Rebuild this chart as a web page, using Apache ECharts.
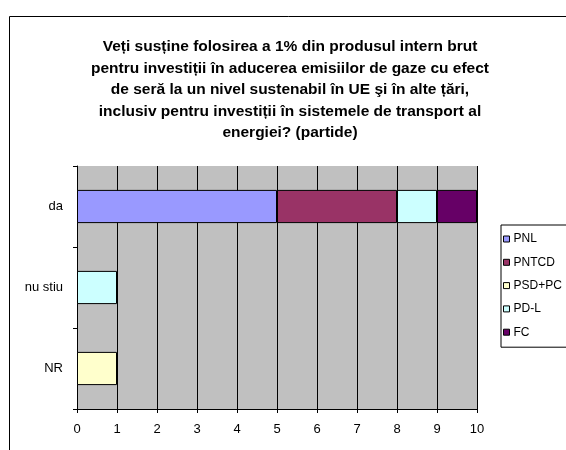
<!DOCTYPE html>
<html>
<head>
<meta charset="utf-8">
<script src="https://cdn.jsdelivr.net/npm/echarts@6/dist/echarts.min.js"></script>
<style>
  html, body { margin: 0; padding: 0; background: #fff; }
  #main { width: 566px; height: 450px; }
</style>
</head>
<body>
<div id="main"></div>
<script>
// date
var categories = ["da", "nu stiu", "NR"];
var pnl = [5, null, null];
var pntcd = [3, null, null];
var psdpc = [null, null, 1];
var pdl = [1, 1, null];
var fc = [1, null, null];
var xTicks = [0, 10, 1]; // min, max, interval

var chart = echarts.init(document.getElementById("main"));

function barSerie(name, data, color) {
  return {
    name: name,
    type: "bar",
    stack: "total",
    data: data,
    barCategoryGap: "59%",
    itemStyle: {
      color: color,
      borderColor: "#000",
      borderWidth: 1,
    },
  };
}

chart.setOption({
  animation: false,
  textStyle: { fontFamily: "Liberation Sans, Arial, sans-serif" },
  title: {
    text: "Veți susține folosirea a 1% din produsul intern brut\npentru investiții în aducerea emisiilor de gaze cu efect\nde seră la un nivel sustenabil în UE şi în alte țări,\ninclusiv pentru investiții în sistemele de transport al\nenergiei? (partide)",
    left: 285,
    top: 31,
    textAlign: "center",
    textStyle: {
      fontSize: 15.5,
      fontWeight: "bold",
      color: "#000",
      lineHeight: 21.5,
    },
  },
  legend: {
    orient: "vertical",
    left: 501,
    top: 225,
    padding: [8, 40, 9, 2],
    borderColor: "#000",
    borderWidth: 1,
    itemWidth: 6,
    itemHeight: 6,
    itemGap: 11.3,
    icon: "rect",
    itemStyle: { borderColor: "#000", borderWidth: 1 },
    textStyle: { fontSize: 12, color: "#000", lineHeight: 12, padding: [0, 0, 0, -1] },
    data: ["PNL", "PNTCD", "PSD+PC", "PD-L", "FC"],
  },
  grid: {
    left: 77,
    right: 89,
    top: 166,
    bottom: 41,
    show: true,
    backgroundColor: "#c0c0c0",
    borderWidth: 0,
  },
  xAxis: {
    type: "value",
    min: xTicks[0],
    max: xTicks[1],
    interval: xTicks[2],
    axisLine: { show: true, lineStyle: { color: "#000" } },
    axisTick: { show: true, length: 4, lineStyle: { color: "#000" } },
    axisLabel: { color: "#000", fontSize: 13, margin: 14 },
    splitLine: { show: true, lineStyle: { color: "#000", width: 1 } },
  },
  yAxis: {
    type: "category",
    data: categories,
    inverse: true,
    axisLine: { show: true, lineStyle: { color: "#000" } },
    axisTick: { show: true, length: 4, lineStyle: { color: "#000" } },
    axisLabel: { color: "#000", fontSize: 13, margin: 14 },
    splitLine: { show: false },
  },
  series: [
    barSerie("PNL", pnl, "#9999ff"),
    barSerie("PNTCD", pntcd, "#993366"),
    barSerie("PSD+PC", psdpc, "#ffffcc"),
    barSerie("PD-L", pdl, "#ccffff"),
    barSerie("FC", fc, "#660066"),
  ],
  graphic: [
    {
      type: "rect",
      shape: { x: 9.5, y: 16.5, width: 700, height: 600 },
      style: { fill: null, stroke: "#000", lineWidth: 1 },
      silent: true,
      z: 100,
    },
  ],
});
</script>
</body>
</html>
